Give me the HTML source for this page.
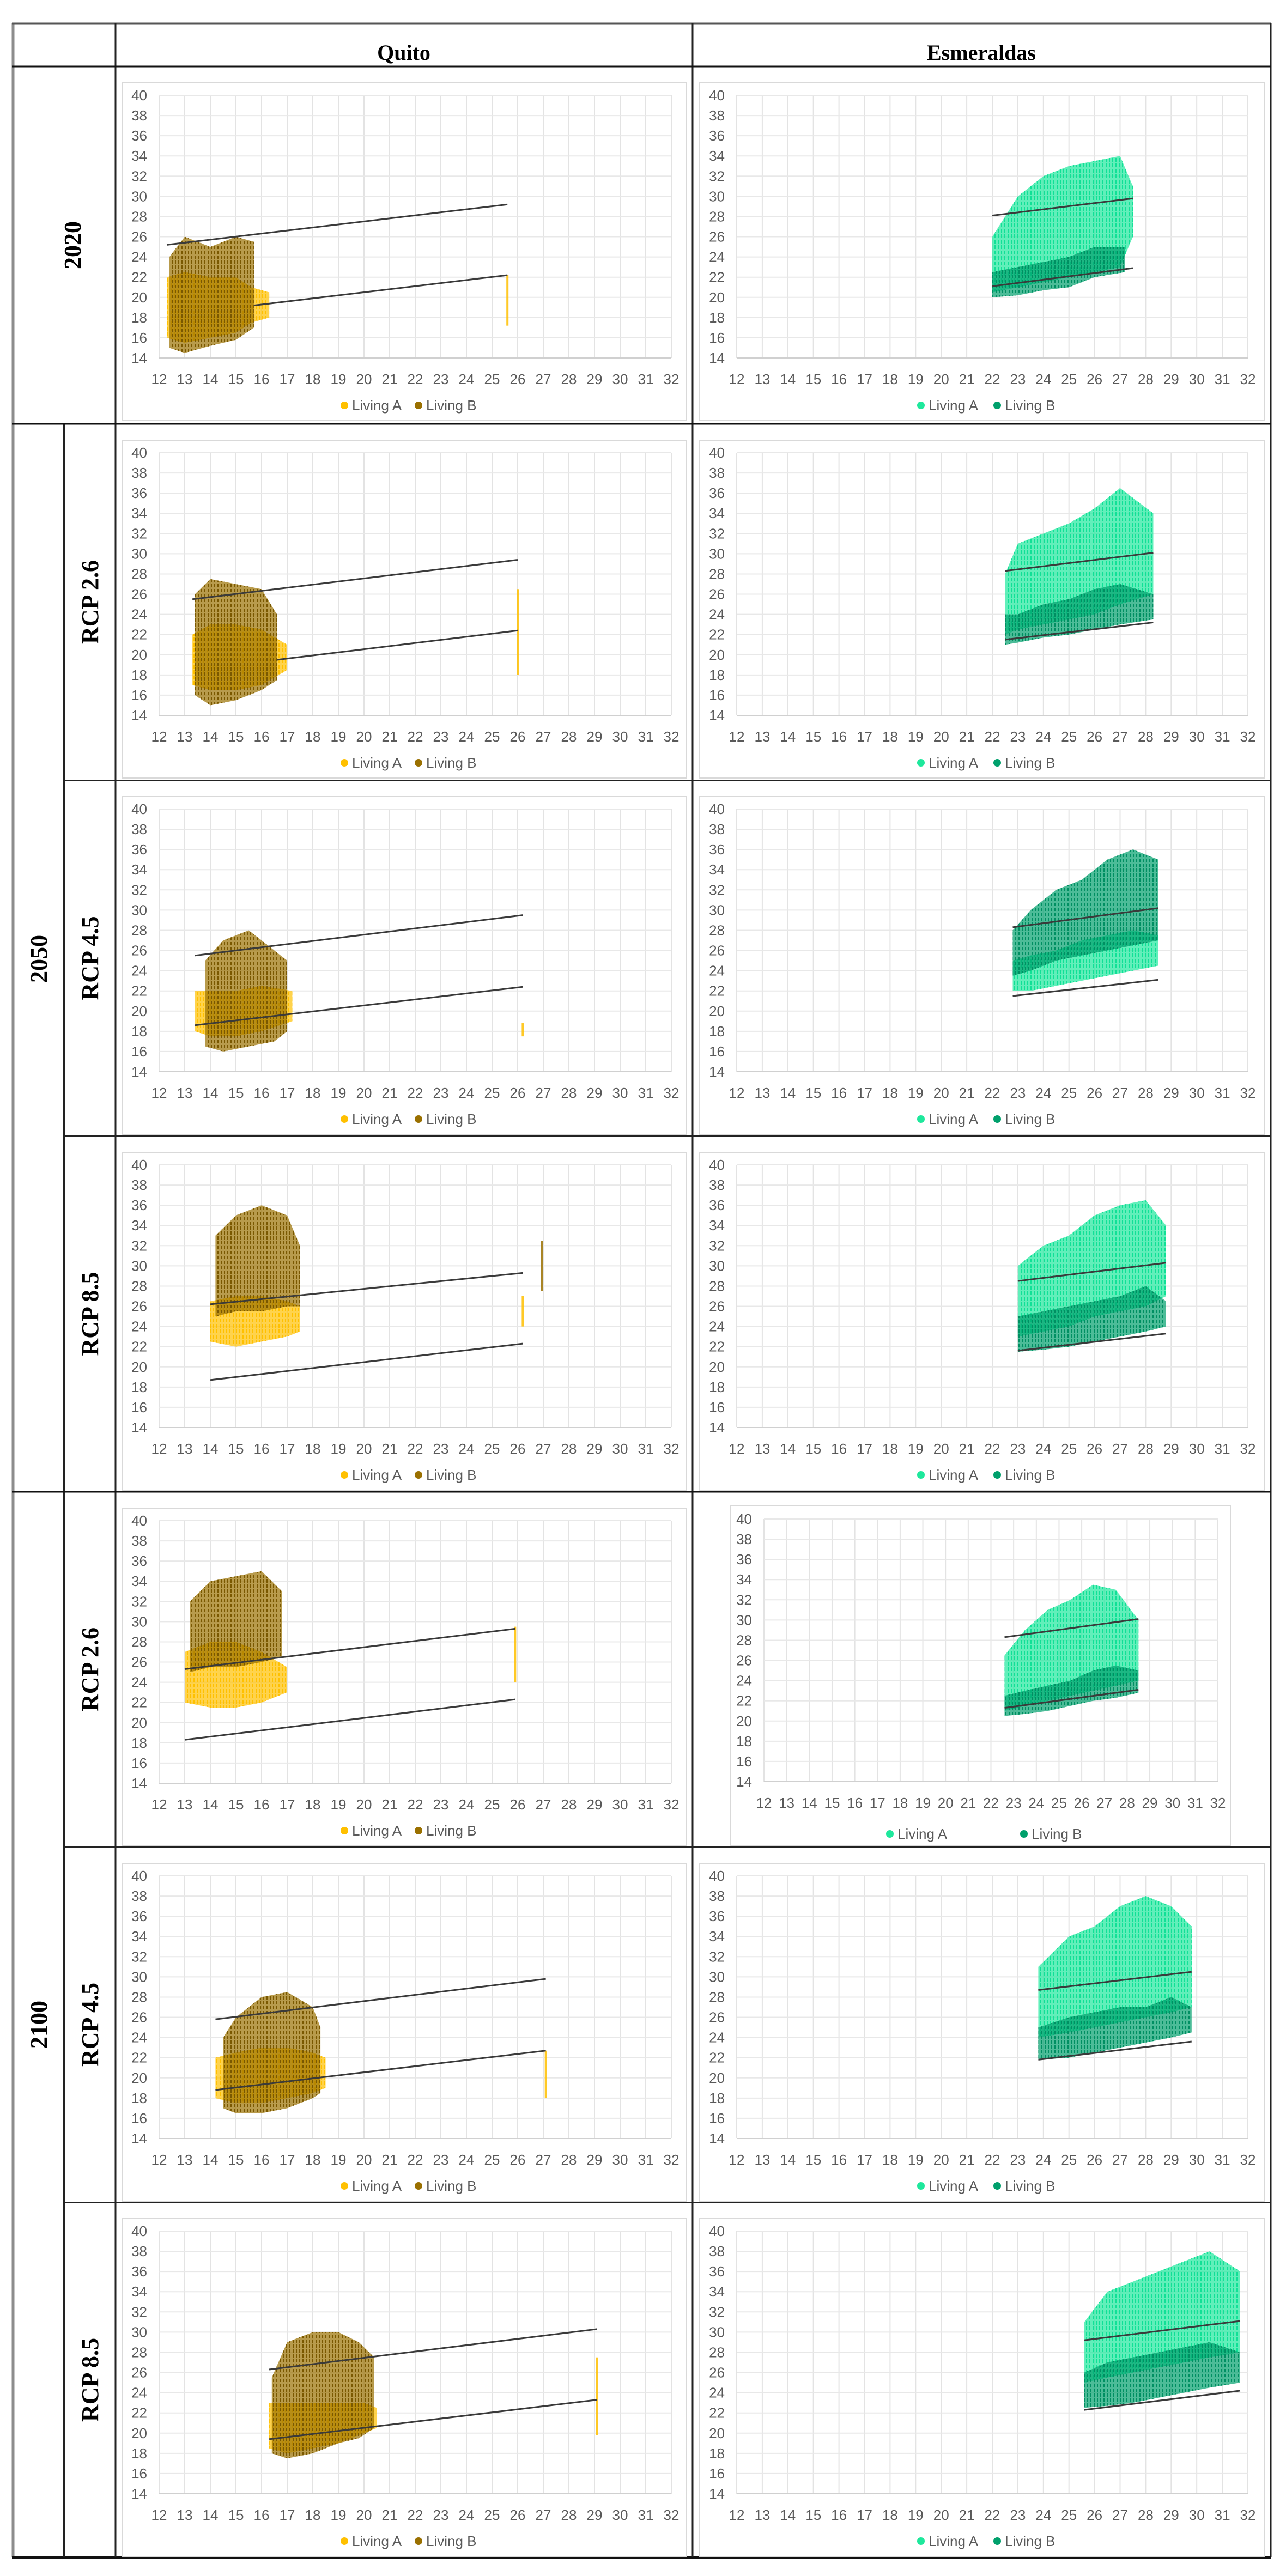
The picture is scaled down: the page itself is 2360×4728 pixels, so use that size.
<!DOCTYPE html>
<html><head><meta charset="utf-8"><style>
html,body{margin:0;padding:0;background:#fff;}
svg{display:block;}
.tick{font-family:"Liberation Sans Narrow","Liberation Sans",sans-serif;font-size:26px;fill:#595959;}
.leg{font-family:"Liberation Sans Narrow","Liberation Sans",sans-serif;font-size:26px;fill:#595959;}
.hdr{font-family:"Liberation Serif",serif;font-weight:bold;font-size:40px;fill:#000;}
.yr{font-family:"Liberation Serif",serif;font-weight:bold;font-size:44px;fill:#000;}
</style></head><body>
<svg id="root" width="2360" height="4728" viewBox="0 0 2360 4728" xmlns="http://www.w3.org/2000/svg">
<defs>
<pattern id="pQA" width="6" height="10" patternUnits="userSpaceOnUse"><rect x="1" y="0" width="2" height="7" fill="#FFC000"/></pattern>
<pattern id="pQB" width="6" height="9" patternUnits="userSpaceOnUse"><rect x="3" y="1" width="2" height="6" fill="#7A5800"/></pattern>
<pattern id="pEA" width="6" height="10" patternUnits="userSpaceOnUse"><rect x="1" y="0" width="2" height="7" fill="#10E096"/></pattern>
<pattern id="pEB" width="6" height="9" patternUnits="userSpaceOnUse"><rect x="3" y="1" width="2" height="6" fill="#008F62"/></pattern>
</defs>
<g id="table"></g>
<g id="charts"></g>
</svg>
<script>
// ---------------- DATA ----------------
const xTicks = [12,13,14,15,16,17,18,19,20,21,22,23,24,25,26,27,28,29,30,31,32];
const yTicks = [14,16,18,20,22,24,26,28,30,32,34,36,38,40];
const seriesNames = ["Living A","Living B"];

// Quito 2020
const q2020_A_x=[12.3,13,14,15,15.6,16.3], q2020_A_lo=[16,15.5,16,16.5,17.5,18], q2020_A_hi=[22,22.5,22,22,21,20.5];
const q2020_B_x=[12.4,13,14,15,15.7], q2020_B_lo=[15,14.5,15.2,15.8,17], q2020_B_hi=[24,26,25,26,25.5];
const q2020_out_x=[25.6], q2020_out_lo=[17.2], q2020_out_hi=[22.2];
const q2020_upper=[12.3,25.2,25.6,29.2], q2020_lower=[15.7,19.2,25.6,22.2];
// Esmeraldas 2020
const e2020_A_x=[22,23,24,25,26,27,27.5], e2020_A_lo=[20.5,21,21.5,22,22.5,23,26], e2020_A_hi=[26,30,32,33,33.5,34,31];
const e2020_B_x=[22,23,24,25,26,27.2], e2020_B_lo=[20,20.2,20.7,21,22,22.5], e2020_B_hi=[22.5,23,23.5,24,25,25];
const e2020_upper=[22,28.1,27.5,29.8], e2020_lower=[22,21.1,27.5,22.9];
// Quito 2050 RCP2.6
const q5026_A_x=[13.3,14,15,16,17], q5026_A_lo=[17,16.5,16.5,17,18.5], q5026_A_hi=[22,23,23,22.5,21];
const q5026_B_x=[13.4,14,15,16,16.6], q5026_B_lo=[16,15,15.5,16.5,17.5], q5026_B_hi=[26,27.5,27,26.5,24];
const q5026_out_x=[26], q5026_out_lo=[18], q5026_out_hi=[26.5];
const q5026_upper=[13.3,25.5,26,29.4], q5026_lower=[16.6,19.5,26,22.4];
// Esmeraldas 2050 RCP2.6
const e5026_A_x=[22.5,23,24,25,26,27,28.3], e5026_A_lo=[22,22.5,23,23.5,24,25,26], e5026_A_hi=[28,31,32,33,34.5,36.5,34];
const e5026_B_x=[22.5,23,24,25,26,27,28.3], e5026_B_lo=[21,21.2,21.7,22,22.5,23,23.5], e5026_B_hi=[24,24,25,25.5,26.5,27,26];
const e5026_upper=[22.5,28.3,28.3,30.1], e5026_lower=[22.5,21.5,28.3,23.2];
// Quito 2050 RCP4.5
const q5045_A_x=[13.4,14,15,16,17.2], q5045_A_lo=[18,17.5,17.5,18,19], q5045_A_hi=[22,22,22,22.5,22];
const q5045_B_x=[13.8,14.5,15.5,16.5,17], q5045_B_lo=[16.5,16,16.5,17,18], q5045_B_hi=[25,27,28,26,25];
const q5045_out_x=[26.2], q5045_out_lo=[17.5], q5045_out_hi=[18.8];
const q5045_upper=[13.4,25.5,26.2,29.5], q5045_lower=[13.4,18.6,26.2,22.4];
// Esmeraldas 2050 RCP4.5
const e5045_A_x=[22.8,23.5,24.5,25.5,26.5,27.5,28.5], e5045_A_lo=[22,22,22.5,23,23.5,24,24.5], e5045_A_hi=[25,25.5,26,27,27.5,28,27.5];
const e5045_B_x=[22.8,23.5,24.5,25.5,26.5,27.5,28.5], e5045_B_lo=[23.5,24,25,25.5,26,26.5,27], e5045_B_hi=[28,30,32,33,35,36,35];
const e5045_upper=[22.8,28.3,28.5,30.2], e5045_lower=[22.8,21.5,28.5,23.1];
// Quito 2050 RCP8.5
const q5085_A_x=[14,15,16,17,17.5], q5085_A_lo=[22.5,22,22.5,23,23.5], q5085_A_hi=[26.5,27,27,26.5,26];
const q5085_B_x=[14.2,15,16,17,17.5], q5085_B_lo=[25,25.5,25.5,26,26], q5085_B_hi=[33,35,36,35,32];
const q5085_out_x=[26.2], q5085_out_lo=[24], q5085_out_hi=[27];
const q5085_outB_x=[26.95], q5085_outB_lo=[27.5], q5085_outB_hi=[32.5];
const q5085_upper=[14,26.2,26.2,29.3], q5085_lower=[14,18.7,26.2,22.3];
// Esmeraldas 2050 RCP8.5
const e5085_A_x=[23,24,25,26,27,28,28.8], e5085_A_lo=[23,23.5,24,25,25.5,26,27], e5085_A_hi=[30,32,33,35,36,36.5,34];
const e5085_B_x=[23,24,25,26,27,28,28.8], e5085_B_lo=[21.5,21.7,22,22.5,23,23.5,24], e5085_B_hi=[25,25.5,26,26.5,27,28,26.5];
const e5085_upper=[23,28.5,28.8,30.3], e5085_lower=[23,21.6,28.8,23.3];
// Quito 2100 RCP2.6
const q0026_A_x=[13,14,15,16,17], q0026_A_lo=[22,21.5,21.5,22,23], q0026_A_hi=[27,28,28,27,25.5];
const q0026_B_x=[13.2,14,15,16,16.8], q0026_B_lo=[25,25.5,25.5,26,26.5], q0026_B_hi=[32,34,34.5,35,33];
const q0026_out_x=[25.9], q0026_out_lo=[24], q0026_out_hi=[29.5];
const q0026_upper=[13,25.3,25.9,29.3], q0026_lower=[13,18.3,25.9,22.3];
// Esmeraldas 2100 RCP2.6
const e0026_A_x=[22.6,23.5,24.5,25.5,26.5,27.5,28.5], e0026_A_lo=[21,21.5,22,22.5,23,23.5,24], e0026_A_hi=[26.5,29,31,32,33.5,33,30];
const e0026_B_x=[22.6,23.5,24.5,25.5,26.5,27.5,28.5], e0026_B_lo=[20.5,20.7,21,21.5,22,22.3,22.8], e0026_B_hi=[22.5,23,23.5,24,25,25.5,25];
const e0026_upper=[22.6,28.3,28.5,30.1], e0026_lower=[22.6,21.3,28.5,23.1];
// Quito 2100 RCP4.5
const q0045_A_x=[14.2,15,16,17,18,18.5], q0045_A_lo=[18,17.5,17.5,18,18.5,19], q0045_A_hi=[22,22.5,23,23,22.5,22];
const q0045_B_x=[14.5,15,16,17,18,18.3], q0045_B_lo=[17,16.5,16.5,17,18,18.5], q0045_B_hi=[24,26,28,28.5,27,25];
const q0045_out_x=[27.1], q0045_out_lo=[18], q0045_out_hi=[22.7];
const q0045_upper=[14.2,25.8,27.1,29.8], q0045_lower=[14.2,18.8,27.1,22.7];
// Esmeraldas 2100 RCP4.5
const e0045_A_x=[23.8,25,26,27,28,29,29.8], e0045_A_lo=[24,24.5,25,25.5,26,26.5,27], e0045_A_hi=[31,34,35,37,38,37,35];
const e0045_B_x=[23.8,25,26,27,28,29,29.8], e0045_B_lo=[21.8,22,22.5,23,23.5,24,24.5], e0045_B_hi=[25,26,26.5,27,27,28,27];
const e0045_upper=[23.8,28.7,29.8,30.5], e0045_lower=[23.8,21.8,29.8,23.6];
// Quito 2100 RCP8.5
const q0085_A_x=[16.3,17,18,19,20,20.5], q0085_A_lo=[18.5,18,18.5,19,20,20.5], q0085_A_hi=[23,23,23,23,23,22.5];
const q0085_B_x=[16.4,17,18,19,19.8,20.4], q0085_B_lo=[18,17.5,18,19,19.5,20.5], q0085_B_hi=[25.5,29,30,30,29,27.5];
const q0085_out_x=[29.1], q0085_out_lo=[19.8], q0085_out_hi=[27.5];
const q0085_upper=[16.3,26.3,29.1,30.3], q0085_lower=[16.3,19.4,29.1,23.3];
// Esmeraldas 2100 RCP8.5
const e0085_A_x=[25.6,26.5,27.5,28.5,29.5,30.5,31.7], e0085_A_lo=[25,25.5,26,26.5,27,27.5,28], e0085_A_hi=[31,34,35,36,37,38,36];
const e0085_B_x=[25.6,26.5,27.5,28.5,29.5,30.5,31.7], e0085_B_lo=[22.5,22.7,23,23.5,24,24.5,25], e0085_B_hi=[26,27,27.5,28,28.5,29,28];
const e0085_upper=[25.6,29.2,31.7,31.1], e0085_lower=[25.6,22.3,31.7,24.2];

// ---------------- LAYOUT ----------------
const NS="http://www.w3.org/2000/svg";
const rowTops=[122,778,1432,2085,2738,3390,4042,4694];
function mk(tag,attrs,parent){const e=document.createElementNS(NS,tag);for(const k in attrs)e.setAttribute(k,attrs[k]);parent.appendChild(e);return e;}
const T=document.getElementById('table');
function line(x1,y1,x2,y2,w,c,name){const l=mk('line',{x1,y1,x2,y2,stroke:c,'stroke-width':w},T);

}
line(24,43,24,4694,5,'#8c8c8c','table-left-border');
line(22,43,2333,43,3,'#555','table-top-border');
line(2332,43,2332,4694,3,'#222','table-right-border');
line(22,4694,2333,4694,4,'#111','table-bottom-border');
line(212,43,212,4694,3,'#222','column-divider-1');
line(1271,43,1271,4694,3,'#222','column-divider-2');
line(118,778,118,4694,4,'#222','subcolumn-divider');
line(22,122,2333,122,3,'#111','header-bottom-line');
line(22,778,2333,778,3,'#111','row-2020-bottom');
line(118,1432,2333,1432,2,'#222','row-2050-26-bottom');
line(118,2085,2333,2085,2,'#222','row-2050-45-bottom');
line(22,2738,2333,2738,3,'#111','row-2050-bottom');
line(118,3390,2333,3390,2,'#222','row-2100-26-bottom');
line(118,4042,2333,4042,2,'#222','row-2100-45-bottom');
function txt(x,y,s,cls,name,rot){const t=mk('text',{x,y,'class':cls,'text-anchor':'middle'},T);t.textContent=s;
if(rot)t.setAttribute('transform','rotate(-90 '+x+' '+y+')');

}
txt(741,110,'Quito','hdr','quito-header');
txt(1801,110,'Esmeraldas','hdr','esmeraldas-header');
txt(148,450,'2020','yr','year-2020-label',true);
txt(86,1760,'2050','yr','year-2050-label',true);
txt(86,3716,'2100','yr','year-2100-label',true);
const rcp=['RCP 2.6','RCP 4.5','RCP 8.5','RCP 2.6','RCP 4.5','RCP 8.5'];
for(let i=0;i<6;i++){const cy=(rowTops[i+1]+rowTops[i+2])/2;txt(180,cy,rcp[i],'yr','rcp-label-'+(i+1),true);}

// ---------------- CHARTS ----------------
const C=document.getElementById('charts');
const QC={A:'#FFC000',B:'#9A7000',pA:'url(#pQA)',pB:'url(#pQB)'};
const EC={A:'#1EE89C',B:'#00A06C',pA:'url(#pEA)',pB:'url(#pEB)'};
function drawChart(cfg){
 const g=mk('g',{},C);
 
 
 const top=cfg.top;
 const px0=cfg.px0,px1=cfg.px1,py0=top+cfg.dy0,py1=top+cfg.dy1;
 const X=v=>px0+(v-12)/20*(px1-px0);
 const Y=v=>py1-(v-14)/26*(py1-py0);
 mk('rect',{x:cfg.bx0,y:top+cfg.bt,width:cfg.bx1-cfg.bx0,height:cfg.bh,fill:'#fff',stroke:'#d9d9d9','stroke-width':2},g);
 for(const v of xTicks){const l=mk('line',{x1:X(v),y1:py0,x2:X(v),y2:py1,stroke:'#e3e3e3','stroke-width':2},g);
  
  
  const t=mk('text',{x:X(v),y:top+cfg.dxl,'class':'tick','text-anchor':'middle'},g);t.textContent=v;
  
  }
 for(const v of yTicks){const l=mk('line',{x1:px0,y1:Y(v),x2:px1,y2:Y(v),stroke:v===14?'#d0d0d0':'#e8e8e8','stroke-width':2},g);
  
  
  const t=mk('text',{x:px0-22,y:Y(v)+9,'class':'tick','text-anchor':'end'},g);t.textContent=v;
  
  }
 const col=cfg.col;
 function band(xs,lo,hi,c,p,name,op){
  let d='M'+xs.map((x,i)=>X(x)+','+Y(hi[i])).join(' L');
  for(let i=xs.length-1;i>=0;i--)d+=' L'+X(xs[i])+','+Y(lo[i]);
  d+=' Z';
  const a=mk('path',{d,fill:c,'fill-opacity':op},g);
  
  
  const b=mk('path',{d,fill:p},g);
  
  
 }
 function streak(xs,lo,hi,c,name){for(let i=0;i<xs.length;i++){const r=mk('rect',{x:X(xs[i])-2,y:Y(hi[i]),width:4,height:Y(lo[i])-Y(hi[i]),fill:c,'fill-opacity':0.85},g);
  
  }}
 band(cfg.A[0],cfg.A[1],cfg.A[2],col.A,col.pA,'series-living-a',0.7);
 band(cfg.B[0],cfg.B[1],cfg.B[2],col.B,col.pB,'series-living-b',0.7);
 if(cfg.out)streak(cfg.out[0],cfg.out[1],cfg.out[2],col.A,'outlier-living-a');
 if(cfg.outB)streak(cfg.outB[0],cfg.outB[1],cfg.outB[2],col.B,'outlier-living-b');
 for(const [ln,nm] of [[cfg.up,'upper-comfort-line'],[cfg.lo,'lower-comfort-line']]){
  const l=mk('line',{x1:X(ln[0]),y1:Y(ln[1]),x2:X(ln[2]),y2:Y(ln[3]),stroke:'#3a3a3a','stroke-width':3},g);
  
  }
 const ly=top+cfg.dleg;
 for(let i=0;i<2;i++){
  const c=mk('circle',{cx:cfg.legX[i],cy:ly-8,r:7,fill:i?col.B:col.A},g);
  
  
  const t=mk('text',{x:cfg.legX[i]+14,y:ly+1,'class':'leg'},g);t.textContent=seriesNames[i];
  
  
 }
}
const Q={px0:292,px1:1232,dy0:53,dy1:535,bx0:225,bx1:1260,bt:30,bh:620,dxl:583,dleg:630,legX:[632,768],col:QC};
const E={px0:1352,px1:2290,dy0:53,dy1:535,bx0:1284,bx1:2321,bt:30,bh:620,dxl:583,dleg:630,legX:[1690,1830],col:EC};
const EALT={px0:1402,px1:2235,dy0:50,dy1:532,bx0:1341,bx1:2258,bt:25,bh:625,dxl:580,dleg:636,legX:[1633,1879],col:EC};
const charts=[
 [Q,'quito-2020',0,[q2020_A_x,q2020_A_lo,q2020_A_hi],[q2020_B_x,q2020_B_lo,q2020_B_hi],[q2020_out_x,q2020_out_lo,q2020_out_hi],null,q2020_upper,q2020_lower],
 [E,'esmeraldas-2020',0,[e2020_A_x,e2020_A_lo,e2020_A_hi],[e2020_B_x,e2020_B_lo,e2020_B_hi],null,null,e2020_upper,e2020_lower],
 [Q,'quito-2050-rcp26',1,[q5026_A_x,q5026_A_lo,q5026_A_hi],[q5026_B_x,q5026_B_lo,q5026_B_hi],[q5026_out_x,q5026_out_lo,q5026_out_hi],null,q5026_upper,q5026_lower],
 [E,'esmeraldas-2050-rcp26',1,[e5026_A_x,e5026_A_lo,e5026_A_hi],[e5026_B_x,e5026_B_lo,e5026_B_hi],null,null,e5026_upper,e5026_lower],
 [Q,'quito-2050-rcp45',2,[q5045_A_x,q5045_A_lo,q5045_A_hi],[q5045_B_x,q5045_B_lo,q5045_B_hi],[q5045_out_x,q5045_out_lo,q5045_out_hi],null,q5045_upper,q5045_lower],
 [E,'esmeraldas-2050-rcp45',2,[e5045_A_x,e5045_A_lo,e5045_A_hi],[e5045_B_x,e5045_B_lo,e5045_B_hi],null,null,e5045_upper,e5045_lower],
 [Q,'quito-2050-rcp85',3,[q5085_A_x,q5085_A_lo,q5085_A_hi],[q5085_B_x,q5085_B_lo,q5085_B_hi],[q5085_out_x,q5085_out_lo,q5085_out_hi],[q5085_outB_x,q5085_outB_lo,q5085_outB_hi],q5085_upper,q5085_lower],
 [E,'esmeraldas-2050-rcp85',3,[e5085_A_x,e5085_A_lo,e5085_A_hi],[e5085_B_x,e5085_B_lo,e5085_B_hi],null,null,e5085_upper,e5085_lower],
 [Q,'quito-2100-rcp26',4,[q0026_A_x,q0026_A_lo,q0026_A_hi],[q0026_B_x,q0026_B_lo,q0026_B_hi],[q0026_out_x,q0026_out_lo,q0026_out_hi],null,q0026_upper,q0026_lower],
 [EALT,'esmeraldas-2100-rcp26',4,[e0026_A_x,e0026_A_lo,e0026_A_hi],[e0026_B_x,e0026_B_lo,e0026_B_hi],null,null,e0026_upper,e0026_lower],
 [Q,'quito-2100-rcp45',5,[q0045_A_x,q0045_A_lo,q0045_A_hi],[q0045_B_x,q0045_B_lo,q0045_B_hi],[q0045_out_x,q0045_out_lo,q0045_out_hi],null,q0045_upper,q0045_lower],
 [E,'esmeraldas-2100-rcp45',5,[e0045_A_x,e0045_A_lo,e0045_A_hi],[e0045_B_x,e0045_B_lo,e0045_B_hi],null,null,e0045_upper,e0045_lower],
 [Q,'quito-2100-rcp85',6,[q0085_A_x,q0085_A_lo,q0085_A_hi],[q0085_B_x,q0085_B_lo,q0085_B_hi],[q0085_out_x,q0085_out_lo,q0085_out_hi],null,q0085_upper,q0085_lower],
 [E,'esmeraldas-2100-rcp85',6,[e0085_A_x,e0085_A_lo,e0085_A_hi],[e0085_B_x,e0085_B_lo,e0085_B_hi],null,null,e0085_upper,e0085_lower]
];
for(const c of charts){
 drawChart(Object.assign({},c[0],{name:c[1]+'-chart',top:rowTops[c[2]],A:c[3],B:c[4],out:c[5],outB:c[6],up:c[7],lo:c[8]}));
}
</script>
</body></html>
